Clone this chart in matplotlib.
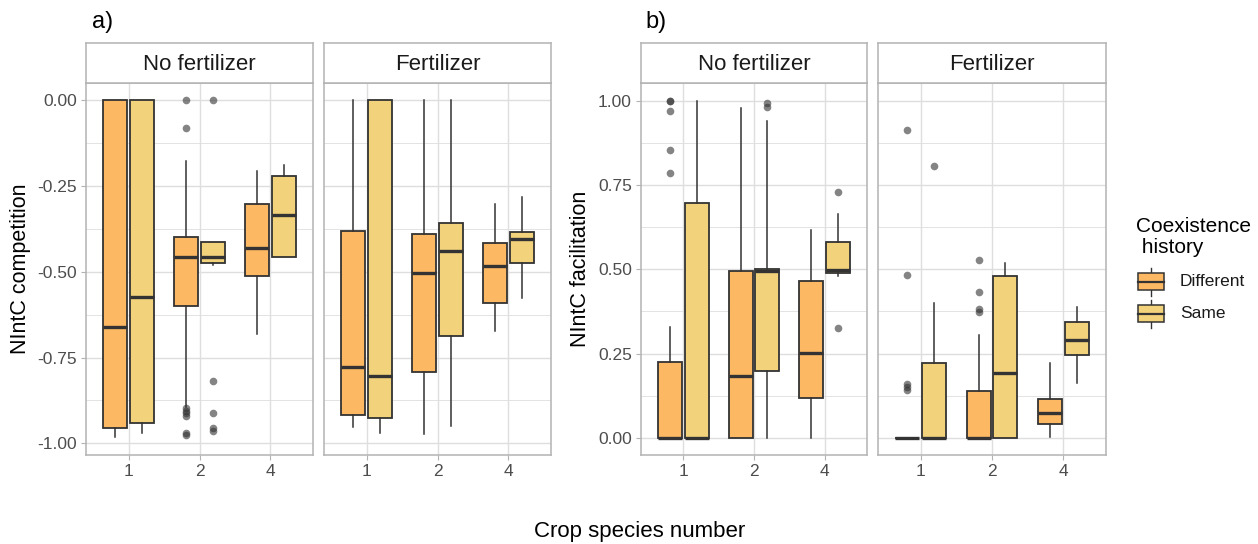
import numpy as np
import matplotlib.pyplot as plt
from matplotlib.patches import Rectangle

plt.rcParams['font.family'] = ['Liberation Sans', 'DejaVu Sans']

W, H = 1258, 544

species = ['1', '2', '4']
history = ['Different', 'Same']
fill_cols = {'Different': '#FDB863', 'Same': '#F2D27B'}

# box stats, one row per box in order 1-Diff, 1-Same, 2-Diff, 2-Same, 4-Diff, 4-Same
# columns: whisker low, q1, median, q3, whisker high
comp_nofert = [
    [-0.981, -0.954, -0.660, 0.000, 0.000],
    [-0.969, -0.942, -0.572, 0.000, 0.000],
    [-0.893, -0.600, -0.456, -0.399, -0.176],
    [-0.480, -0.475, -0.456, -0.412, -0.412],
    [-0.681, -0.512, -0.431, -0.303, -0.206],
    [-0.456, -0.456, -0.334, -0.219, -0.188],
]
comp_nofert_out = [
    [], [],
    [0.0, -0.081, -0.898, -0.905, -0.912, -0.920, -0.969, -0.976],
    [0.0, -0.817, -0.911, -0.956, -0.964],
    [], [],
]
comp_fert = [
    [-0.953, -0.917, -0.778, -0.380, 0.000],
    [-0.971, -0.927, -0.804, 0.000, 0.000],
    [-0.974, -0.793, -0.502, -0.390, 0.000],
    [-0.950, -0.687, -0.439, -0.358, 0.000],
    [-0.672, -0.592, -0.482, -0.417, -0.303],
    [-0.577, -0.475, -0.405, -0.385, -0.281],
]
comp_fert_out = [[], [], [], [], [], []]

fac_nofert = [
    [0.000, 0.000, 0.000, 0.224, 0.328],
    [0.000, 0.000, 0.000, 0.696, 1.000],
    [0.000, 0.000, 0.183, 0.496, 0.978],
    [0.000, 0.198, 0.495, 0.500, 0.941],
    [0.000, 0.117, 0.252, 0.466, 0.617],
    [0.480, 0.488, 0.498, 0.581, 0.664],
]
fac_nofert_out = [
    [1.0, 1.0, 0.970, 0.854, 0.787],
    [],
    [],
    [0.995, 0.983],
    [],
    [0.731, 0.327],
]
fac_fert = [
    [0.000, 0.000, 0.000, 0.000, 0.000],
    [0.000, 0.000, 0.000, 0.221, 0.399],
    [0.000, 0.000, 0.000, 0.139, 0.305],
    [0.000, 0.000, 0.193, 0.480, 0.520],
    [0.001, 0.041, 0.074, 0.114, 0.221],
    [0.163, 0.246, 0.290, 0.343, 0.387],
]
fac_fert_out = [
    [0.914, 0.484, 0.159, 0.150, 0.142],
    [0.808],
    [0.528, 0.434, 0.381, 0.374],
    [],
    [],
    [],
]

grey70 = '#B3B3B3'
grey87 = '#DEDEDE'
grey30 = '#4D4D4D'
box_edge = '#333333'


def px_axes(fig, x0, y0, x1, y1):
    # axes from pixel box (top-left origin)
    return fig.add_axes([x0 / W, 1 - y1 / H, (x1 - x0) / W, (y1 - y0) / H])


def draw_facet(ax, stats, fliers, ylim, yticks, minor, show_y):
    pos = []
    for i in range(len(species)):
        for j in range(len(history)):
            pos.append(i + 1 + (j - 0.5) * 0.375)
    bstats = []
    for k, (lo, q1, med, q3, hi) in enumerate(stats):
        bstats.append(dict(whislo=lo, q1=q1, med=med, q3=q3, whishi=hi, fliers=fliers[k]))
    art = ax.bxp(bstats, positions=pos, widths=0.3375, patch_artist=True,
                 showcaps=False, manage_ticks=False,
                 boxprops=dict(edgecolor=box_edge, linewidth=1.3),
                 whiskerprops=dict(color=box_edge, linewidth=1.1),
                 medianprops=dict(color=box_edge, linewidth=2.4, solid_capstyle='butt'),
                 flierprops=dict(marker='o', markersize=5.5, markerfacecolor='#333333',
                                 markeredgecolor='none', alpha=0.6))
    for k, b in enumerate(art['boxes']):
        b.set_facecolor(fill_cols[history[k % 2]])
        b.set_zorder(2)
    ax.set_xlim(0.4, 3.6)
    ax.set_ylim(*ylim)
    ax.set_xticks([1, 2, 3])
    ax.set_xticklabels(species)
    ax.set_yticks(yticks)
    ax.set_yticks(minor, minor=True)
    ax.set_yticklabels(['%.2f' % v for v in yticks])
    ax.set_axisbelow(True)
    ax.grid(True, which='major', color=grey87, linewidth=1.0)
    ax.grid(True, which='minor', axis='y', color=grey87, linewidth=0.6)
    ax.tick_params(axis='both', which='major', length=3.5, width=0.8, color=grey70,
                   labelcolor=grey30, labelsize=12.5, pad=3)
    ax.tick_params(axis='y', which='minor', length=0)
    if not show_y:
        ax.tick_params(axis='y', which='major', length=0, labelleft=False)
    for s in ax.spines.values():
        s.set_color(grey70)
        s.set_linewidth(1.1)


def draw_strip(fig, x0, x1, label):
    sax = px_axes(fig, x0, 43, x1, 83)
    sax.set_xticks([])
    sax.set_yticks([])
    for s in sax.spines.values():
        s.set_color(grey70)
        s.set_linewidth(1.1)
    sax.text(0.5, 0.47, label, ha='center', va='center', fontsize=16, color='#1A1A1A',
             transform=sax.transAxes)


fig = plt.figure(figsize=(W / 100, H / 100), dpi=100)

comp_ticks = [-1.0, -0.75, -0.5, -0.25, 0.0]
comp_minor = [-0.875, -0.625, -0.375, -0.125]
fac_ticks = [0.0, 0.25, 0.5, 0.75, 1.0]
fac_minor = [0.125, 0.375, 0.625, 0.875]

facets = [
    (86, 313, 'No fertilizer', comp_nofert, comp_nofert_out, (-1.034, 0.051), comp_ticks, comp_minor, True),
    (324, 551, 'Fertilizer', comp_fert, comp_fert_out, (-1.034, 0.051), comp_ticks, comp_minor, False),
    (641, 867, 'No fertilizer', fac_nofert, fac_nofert_out, (-0.051, 1.053), fac_ticks, fac_minor, True),
    (878, 1106, 'Fertilizer', fac_fert, fac_fert_out, (-0.051, 1.053), fac_ticks, fac_minor, False),
]
for x0, x1, lab, st, fl, yl, yt, ym, show_y in facets:
    ax = px_axes(fig, x0, 83, x1, 455)
    draw_facet(ax, st, fl, yl, yt, ym, show_y)
    draw_strip(fig, x0, x1, lab)

# panel tags and axis titles
fig.text(92 / W, 1 - 22 / H, 'a)', fontsize=17, ha='left', va='center', color='black')
fig.text(645 / W, 1 - 22 / H, 'b)', fontsize=17, ha='left', va='center', color='black')
fig.text(21 / W, 1 - 269 / H, 'NIntC competition', rotation=90, fontsize=15.5,
         ha='center', va='center', color='black')
fig.text(581 / W, 1 - 269 / H, 'NIntC facilitation', rotation=90, fontsize=15.5,
         ha='center', va='center', color='black')
fig.text(640 / W, 1 - 537 / H, 'Crop species number', fontsize=16,
         ha='center', va='baseline', color='black')

# legend
lax = px_axes(fig, 1125, 200, 1258, 340)
lax.set_xlim(1125, 1258)
lax.set_ylim(340, 200)
lax.axis('off')
lax.text(1136, 231.5, 'Coexistence', fontsize=15, ha='left', va='baseline', color='black')
lax.text(1136, 253, ' history', fontsize=15, ha='left', va='baseline', color='black')
for cy, h in [(281.5, 'Different'), (313.5, 'Same')]:
    lax.plot([1151, 1151], [cy - 14, cy + 14], color=box_edge, linewidth=1.0, zorder=1)
    lax.add_patch(Rectangle((1138, cy - 8.5), 26, 17, facecolor=fill_cols[h],
                            edgecolor=box_edge, linewidth=1.1, zorder=2))
    lax.plot([1138, 1164], [cy, cy], color=box_edge, linewidth=1.6, zorder=3)
    lax.text(1180, cy, h, fontsize=12.5, ha='left', va='center', color='#1A1A1A')

fig.savefig('out.png', dpi=100)
